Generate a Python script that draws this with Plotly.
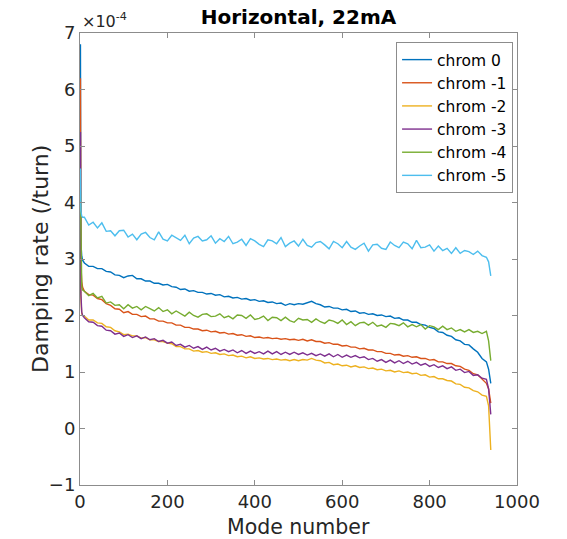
import plotly.graph_objects as go

# Mode numbers sampled along the curves
modes = [1, 2, 4, 6] + list(range(10, 931, 10)) + [935, 940]

# Damping rate values in units of 1e-4 /turn
chrom_0 = [6.80, 3.30, 3.05, 2.98,
    2.93, 2.87, 2.87, 2.83, 2.83, 2.78, 2.77, 2.72, 2.71, 2.67,
    2.70, 2.71, 2.65, 2.65, 2.61, 2.61, 2.57, 2.57, 2.54, 2.55,
    2.51, 2.50, 2.46, 2.47, 2.43, 2.44, 2.41, 2.41, 2.38, 2.39,
    2.36, 2.37, 2.33, 2.34, 2.31, 2.32, 2.29, 2.30, 2.27, 2.28,
    2.25, 2.26, 2.23, 2.24, 2.21, 2.22, 2.18, 2.21, 2.19, 2.21,
    2.20, 2.23, 2.25, 2.21, 2.19, 2.15, 2.16, 2.13, 2.13, 2.10,
    2.11, 2.07, 2.08, 2.04, 2.05, 2.02, 2.03, 2.00, 2.01, 1.98,
    1.99, 1.95, 1.96, 1.92, 1.92, 1.88, 1.88, 1.84, 1.83, 1.79,
    1.77, 1.71, 1.70, 1.65, 1.63, 1.57, 1.55, 1.49, 1.48, 1.41,
    1.35, 1.24, 1.18, 1.05, 0.80]

chrom_m1 = [6.20, 2.90, 2.60, 2.50,
    2.43, 2.37, 2.36, 2.30, 2.28, 2.21, 2.18, 2.12, 2.11, 2.05,
    2.07, 2.02, 2.02, 1.98, 1.99, 1.94, 1.94, 1.90, 1.90, 1.87,
    1.87, 1.83, 1.83, 1.79, 1.79, 1.76, 1.76, 1.73, 1.74, 1.71,
    1.72, 1.69, 1.70, 1.67, 1.68, 1.65, 1.66, 1.63, 1.64, 1.61,
    1.62, 1.60, 1.61, 1.59, 1.60, 1.58, 1.59, 1.57, 1.58, 1.56,
    1.58, 1.55, 1.57, 1.54, 1.54, 1.51, 1.52, 1.49, 1.49, 1.46,
    1.47, 1.44, 1.44, 1.41, 1.42, 1.39, 1.39, 1.36, 1.36, 1.33,
    1.33, 1.30, 1.31, 1.28, 1.29, 1.26, 1.27, 1.24, 1.24, 1.21,
    1.22, 1.18, 1.18, 1.15, 1.15, 1.11, 1.10, 1.05, 1.03, 0.97,
    0.95, 0.87, 0.80, 0.70, 0.45]

chrom_m2 = [5.10, 2.30, 2.03, 2.00,
    1.99, 1.92, 1.92, 1.87, 1.86, 1.80, 1.79, 1.73, 1.71, 1.66,
    1.67, 1.64, 1.64, 1.60, 1.61, 1.57, 1.57, 1.54, 1.54, 1.51,
    1.50, 1.45, 1.45, 1.41, 1.41, 1.37, 1.38, 1.35, 1.36, 1.33,
    1.34, 1.31, 1.32, 1.29, 1.30, 1.27, 1.28, 1.25, 1.27, 1.24,
    1.25, 1.23, 1.24, 1.22, 1.23, 1.21, 1.22, 1.20, 1.22, 1.20,
    1.22, 1.21, 1.24, 1.21, 1.20, 1.16, 1.17, 1.13, 1.14, 1.11,
    1.12, 1.09, 1.11, 1.08, 1.09, 1.06, 1.07, 1.04, 1.05, 1.02,
    1.03, 1.00, 1.02, 0.99, 1.00, 0.97, 0.98, 0.94, 0.95, 0.91,
    0.92, 0.88, 0.88, 0.85, 0.84, 0.79, 0.78, 0.73, 0.72, 0.67,
    0.65, 0.59, 0.57, 0.40, -0.38]

chrom_m3 = [5.25, 2.40, 2.06, 2.00,
    1.96, 1.89, 1.88, 1.82, 1.81, 1.74, 1.73, 1.67, 1.69, 1.63,
    1.66, 1.61, 1.64, 1.59, 1.62, 1.57, 1.59, 1.54, 1.56, 1.51,
    1.53, 1.47, 1.49, 1.44, 1.47, 1.42, 1.45, 1.40, 1.44, 1.39,
    1.42, 1.37, 1.40, 1.36, 1.39, 1.34, 1.38, 1.33, 1.37, 1.33,
    1.36, 1.32, 1.37, 1.32, 1.36, 1.31, 1.35, 1.31, 1.35, 1.31,
    1.34, 1.30, 1.33, 1.29, 1.32, 1.28, 1.32, 1.27, 1.31, 1.26,
    1.30, 1.26, 1.29, 1.25, 1.27, 1.22, 1.24, 1.19, 1.22, 1.17,
    1.21, 1.16, 1.20, 1.15, 1.19, 1.14, 1.17, 1.12, 1.15, 1.10,
    1.13, 1.08, 1.11, 1.06, 1.09, 1.03, 1.05, 0.99, 1.01, 0.94,
    0.95, 0.89, 0.87, 0.70, 0.25]

chrom_m4 = [4.20, 3.20, 2.50, 2.45,
    2.43, 2.35, 2.39, 2.31, 2.34, 2.22, 2.24, 2.18, 2.19, 2.12,
    2.19, 2.13, 2.16, 2.10, 2.16, 2.12, 2.08, 2.14, 2.07, 2.10,
    2.03, 2.08, 2.04, 1.99, 2.06, 2.00, 1.97, 2.02, 2.03, 1.98,
    1.99, 2.03, 1.96, 1.99, 1.94, 2.01, 2.00, 1.95, 2.01, 1.93,
    1.95, 1.99, 1.91, 1.97, 1.96, 1.91, 1.97, 1.91, 1.88, 1.95,
    1.92, 1.93, 1.88, 1.94, 1.89, 1.86, 1.92, 1.90, 1.86, 1.92,
    1.84, 1.89, 1.82, 1.87, 1.88, 1.83, 1.88, 1.81, 1.83, 1.79,
    1.86, 1.85, 1.82, 1.87, 1.80, 1.84, 1.80, 1.84, 1.76, 1.82,
    1.80, 1.75, 1.81, 1.75, 1.78, 1.72, 1.75, 1.71, 1.75, 1.70,
    1.72, 1.68, 1.72, 1.55, 1.20]

chrom_m5 = [4.60, 3.85, 3.76, 3.74,
    3.74, 3.60, 3.65, 3.55, 3.64, 3.49, 3.50, 3.41, 3.50, 3.51,
    3.39, 3.44, 3.34, 3.44, 3.47, 3.38, 3.34, 3.48, 3.35, 3.32,
    3.42, 3.38, 3.33, 3.42, 3.27, 3.37, 3.40, 3.32, 3.34, 3.41,
    3.28, 3.36, 3.31, 3.40, 3.27, 3.30, 3.35, 3.24, 3.36, 3.32,
    3.26, 3.22, 3.34, 3.32, 3.27, 3.38, 3.22, 3.28, 3.32, 3.23,
    3.35, 3.24, 3.21, 3.29, 3.31, 3.25, 3.18, 3.31, 3.27, 3.20,
    3.31, 3.21, 3.17, 3.23, 3.28, 3.14, 3.25, 3.26, 3.19, 3.17,
    3.30, 3.24, 3.20, 3.30, 3.27, 3.18, 3.33, 3.20, 3.21, 3.25,
    3.14, 3.23, 3.15, 3.19, 3.10, 3.20, 3.10, 3.15, 3.13, 3.08,
    3.14, 3.06, 3.03, 2.95, 2.70]

series_names = ["chrom 0", "chrom -1", "chrom -2", "chrom -3", "chrom -4", "chrom -5"]
series_values = [chrom_0, chrom_m1, chrom_m2, chrom_m3, chrom_m4, chrom_m5]
colors = ["#0072BD", "#D95319", "#EDB120", "#7E2F8E", "#77AC30", "#4DBEEE"]

x_ticks = [0, 200, 400, 600, 800, 1000]
y_ticks = [-1, 0, 1, 2, 3, 4, 5, 6, 7]

fig = go.Figure()
for name, vals, col in zip(series_names, series_values, colors):
    assert len(vals) == len(modes), (name, len(vals), len(modes))
    fig.add_trace(go.Scatter(x=modes, y=vals, mode="lines", name=name,
                             line=dict(color=col, width=1.4)))

axis_common = dict(showline=True, linecolor="#8c8c8c", linewidth=1, mirror="ticks",
                   ticks="inside", ticklen=5, tickcolor="#8c8c8c",
                   showgrid=False, zeroline=False,
                   tickfont=dict(family="DejaVu Sans", size=18, color="#262626"))

W, H = 567, 539
PW, PH = 437, 452
fig.update_layout(
    width=W, height=H,
    margin=dict(l=80, r=50, t=33, b=54),
    paper_bgcolor="white", plot_bgcolor="white",
    font=dict(family="DejaVu Sans", color="#262626"),
    title=dict(text="<b>Horizontal, 22mA</b>", x=298.5 / W, xanchor="center",
               y=1 - 17 / H, yanchor="middle",
               font=dict(family="DejaVu Sans", size=20, color="#000000")),
    xaxis=dict(range=[0, 1000], tickvals=x_ticks, **axis_common),
    yaxis=dict(range=[-1, 7], tickvals=y_ticks, **axis_common),
    legend=dict(x=0.991, y=0.980, xanchor="right", yanchor="top",
                bgcolor="white", bordercolor="#8c8c8c", borderwidth=1,
                font=dict(family="DejaVu Sans", size=15.5, color="#000000"),
                tracegroupgap=0, itemwidth=30),
    showlegend=True,
)

# Axis titles
fig.add_annotation(text="Mode number", xref="paper", yref="paper",
                   x=0.5, y=-42 / PH, xanchor="center", yanchor="middle", showarrow=False,
                   font=dict(family="DejaVu Sans", size=20.5, color="#262626"))
fig.add_annotation(text="Damping rate (/turn)", xref="paper", yref="paper",
                   x=-40 / PW, y=0.5, xanchor="center", yanchor="middle", showarrow=False,
                   textangle=-90,
                   font=dict(family="DejaVu Sans", size=22, color="#262626"))
# Exponent label
fig.add_annotation(text="×10<sup>-4</sup>", xref="paper", yref="paper",
                   x=0, y=1, xanchor="left", yanchor="bottom", showarrow=False,
                   font=dict(family="DejaVu Sans", size=16, color="#262626"))

# Remove the default page margin so the figure fills the window exactly
fig.write_html("out.html", config={"displayModeBar": False},
               post_script="document.body.style.margin='0';")
